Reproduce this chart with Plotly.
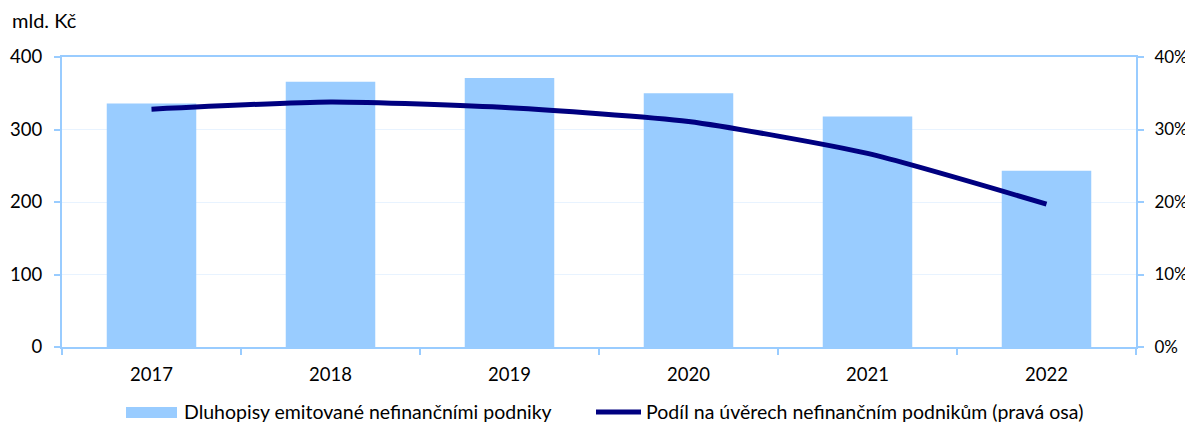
import plotly.graph_objects as go

years = ["2017", "2018", "2019", "2020", "2021", "2022"]
bonds = [336, 366, 371, 350, 318, 243]
share = [32.8, 33.8, 33.0, 31.1, 26.7, 19.7]
left_ticks = [0, 100, 200, 300, 400]
right_ticks = [0, 10, 20, 30, 40]
right_labels = ["0%", "10%", "20%", "30%", "40%"]

bar_name = "Dluhopisy emitované nefinančními podniky"
line_name = "Podíl na úvěrech nefinančním podnikům (pravá osa)"

FONT = "Lato"
AX = "#99CCFF"
BAR_C = "#99CCFF"
LINE_C = "#000080"
FS = 18.5
LFS = 19.5

# page body has an 8px margin -> figure sized to fit the window
W, H = 1185, 417
ML, MR, MT, MB = 54, 57, 49, 78
PW = W - ML - MR
PH = H - MT - MB


def px(x):
    return (x - ML) / PW


def py(y):
    return (H - MB - y) / PH


fig = go.Figure()
fig.add_trace(go.Bar(x=years, y=bonds, name=bar_name, marker_color=BAR_C,
                     marker_line_width=0, width=0.5, yaxis="y"))
fig.add_trace(go.Scatter(x=years, y=share, name=line_name, mode="lines",
                         line=dict(color=LINE_C, width=5, shape="spline", smoothing=0.6),
                         yaxis="y2"))

LY = 404  # legend row centre (figure px)
shapes = [
    dict(type="rect", xref="paper", yref="paper", x0=px(118), x1=px(169),
         y0=py(LY - 5), y1=py(LY + 6), fillcolor=BAR_C, line_width=0, layer="above"),
    dict(type="line", xref="paper", yref="paper", x0=px(588), x1=px(633),
         y0=py(LY), y1=py(LY), line=dict(color=LINE_C, width=5), layer="above"),
]
annotations = [
    dict(text="mld. Kč", xref="paper", yref="paper", x=px(2), y=1.0,
         yshift=37, xanchor="left", yanchor="middle", showarrow=False,
         font=dict(size=20)),
    dict(text=bar_name, xref="paper", yref="paper", x=px(174), y=py(LY),
         xanchor="left", yanchor="middle", showarrow=False, font=dict(size=LFS)),
    dict(text=line_name, xref="paper", yref="paper", x=px(636), y=py(LY),
         xanchor="left", yanchor="middle", showarrow=False, font=dict(size=LFS)),
]

fig.update_layout(
    width=W, height=H,
    margin=dict(l=ML, r=MR, t=MT, b=MB, autoexpand=False),
    plot_bgcolor="white", paper_bgcolor="white",
    font=dict(family=FONT, size=FS, color="#000000"),
    showlegend=False,
    xaxis=dict(type="category", showline=True, linecolor=AX, linewidth=2,
               ticks="outside", tickcolor=AX, ticklen=6, tickwidth=2,
               tickson="boundaries", mirror=True, showgrid=False,
               ticklabelstandoff=10, tickfont=dict(size=FS)),
    yaxis=dict(range=[0, 400], tickvals=left_ticks,
               showline=True, linecolor=AX, linewidth=2,
               ticks="outside", tickcolor=AX, ticklen=6, tickwidth=2,
               gridcolor="#E8F3FF", gridwidth=1, zeroline=False,
               ticklabelstandoff=8, tickfont=dict(size=FS)),
    yaxis2=dict(range=[0, 40], tickvals=right_ticks, ticktext=right_labels,
                overlaying="y", side="right",
                showline=True, linecolor=AX, linewidth=2,
                ticks="outside", tickcolor=AX, ticklen=6, tickwidth=2,
                showgrid=False, zeroline=False, ticklabelstandoff=7,
                tickfont=dict(size=17)),
    shapes=shapes,
    annotations=annotations,
)

fig.write_html("out.html")
